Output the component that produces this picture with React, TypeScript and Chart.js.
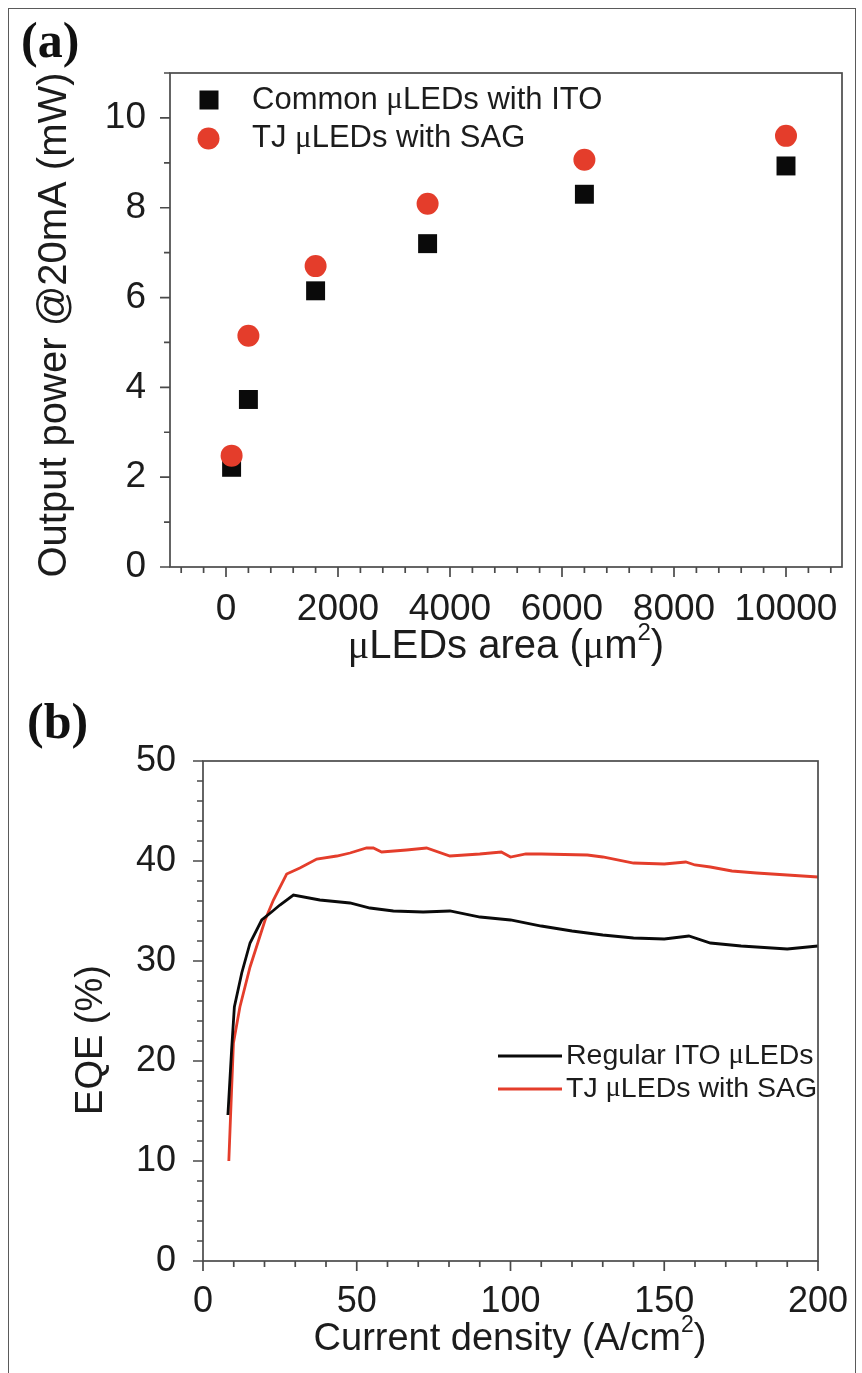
import React, { useEffect, useRef } from "react";
import { Chart, registerables } from "chart.js";

Chart.register(...registerables);

const SANS = '"Liberation Sans", Arial, Helvetica, sans-serif';
const SERIF = '"Liberation Serif", "Times New Roman", serif';
const AXIS_COLOR = "#4a4a4a";
const TEXT_COLOR = "#1c1c1c";
const RED = "#e43d2b";
const BLACK = "#0a0a0a";

// ---------- Panel (a) data ----------
const areaUm2 = [100, 400, 1600, 3600, 6400, 10000];
const powerCommonITO = [2.22, 3.73, 6.15, 7.2, 8.3, 8.93];
const powerTJSAG = [2.48, 5.15, 6.7, 8.09, 9.07, 9.6];
const aXTickLabels = [0, 2000, 4000, 6000, 8000, 10000];
const aYTickLabels = [0, 2, 4, 6, 8, 10];
const aXRange = [-1000, 11000];
const aYRange = [0, 11];
const aXMinorStep = 400;
const aYMinorStep = 1;

// ---------- Panel (b) data ----------
const regX = [8.1, 9.3, 10.2, 12.6, 15.3, 19.1, 22.3, 25, 29.4, 38, 47.8, 54.3, 61.9, 71.6, 80.3, 90.1, 100, 110, 120, 130, 140, 150, 158, 165, 175, 190, 200];
const regEQE = [14.6, 21.1, 25.4, 28.8, 31.8, 34.1, 34.9, 35.6, 36.6, 36.1, 35.8, 35.3, 35.0, 34.9, 35.0, 34.4, 34.1, 33.5, 33.0, 32.6, 32.3, 32.2, 32.5, 31.8, 31.5, 31.2, 31.5];
const tjX = [8.4, 8.9, 9.9, 12.0, 15.3, 20.2, 22.9, 27.2, 31.5, 37, 43.5, 47.8, 53.2, 55.4, 58.1, 66.2, 72.7, 80.3, 90, 97, 100, 105, 110, 125, 130, 140, 150, 157, 160, 165, 172, 180, 190, 200];
const tjEQE = [10, 14, 21.8, 25.4, 29.4, 34.1, 36.1, 38.7, 39.3, 40.2, 40.5, 40.8, 41.3, 41.3, 40.9, 41.1, 41.3, 40.5, 40.7, 40.9, 40.4, 40.7, 40.7, 40.6, 40.4, 39.8, 39.7, 39.9, 39.6, 39.4, 39.0, 38.8, 38.6, 38.4];
const bXTickLabels = [0, 50, 100, 150, 200];
const bYTickLabels = [0, 10, 20, 30, 40, 50];
const bXRange = [0, 200];
const bYRange = [0, 50];
const bXMinorStep = 10;
const bYMinorStep = 2;

type Seg = { t: string; f: string; dy?: number };

function drawRich(ctx: CanvasRenderingContext2D, segs: Seg[], x: number, y: number, align: "left" | "center", rot = 0) {
  ctx.save();
  ctx.translate(x, y);
  if (rot) ctx.rotate(rot);
  ctx.textBaseline = "middle";
  ctx.textAlign = "left";
  ctx.fillStyle = TEXT_COLOR;
  const widths = segs.map((s) => {
    ctx.font = s.f;
    return ctx.measureText(s.t).width;
  });
  const total = widths.reduce((a, b) => a + b, 0);
  let cx = align === "center" ? -total / 2 : 0;
  segs.forEach((s, i) => {
    ctx.font = s.f;
    ctx.fillText(s.t, cx, s.dy || 0);
    cx += widths[i];
  });
  ctx.restore();
}

function muSegs(text: string, size: number): Seg[] {
  const parts = text.split("μ");
  const out: Seg[] = [];
  parts.forEach((p, i) => {
    if (i > 0) out.push({ t: "μ", f: `${size}px ${SERIF}` });
    if (p) out.push({ t: p, f: `${size}px ${SANS}` });
  });
  return out;
}

function buildTicks(min: number, max: number, step: number) {
  const out: number[] = [];
  for (let v = Math.ceil(min / step) * step; v <= max + 1e-9; v += step) {
    out.push(Math.round(v * 1000) / 1000);
  }
  return out;
}

function makeAxis(range: number[], step: number, labels: number[], fontSize: number, padding: number, fixed: number, horizontal: boolean) {
  return {
    type: "linear",
    min: range[0],
    max: range[1],
    grid: { display: false },
    border: { display: false },
    afterBuildTicks: (s: any) => {
      s.ticks = buildTicks(range[0], range[1], step).map((v) => ({ value: v }));
    },
    afterFit: (s: any) => {
      if (horizontal) s.height = fixed;
      else s.width = fixed;
    },
    ticks: {
      autoSkip: false,
      maxRotation: 0,
      minRotation: 0,
      padding,
      color: TEXT_COLOR,
      font: { family: SANS, size: fontSize, lineHeight: 1.2 },
      callback: (v: any) => (labels.includes(Number(v)) ? String(v) : ""),
    },
  };
}

function frameAndTicks(xMajor: number[], yMajor: number[]) {
  return {
    id: "frameTicks",
    afterDraw(chart: any) {
      const { ctx, chartArea: a, scales } = chart;
      ctx.save();
      ctx.strokeStyle = AXIS_COLOR;
      ctx.lineWidth = 1.7;
      ctx.strokeRect(a.left, a.top, a.right - a.left, a.bottom - a.top);
      ctx.beginPath();
      for (const t of scales.x.ticks) {
        const p = scales.x.getPixelForValue(t.value);
        const len = xMajor.includes(t.value) ? 10 : 6;
        ctx.moveTo(p, a.bottom);
        ctx.lineTo(p, a.bottom + len);
      }
      for (const t of scales.y.ticks) {
        const p = scales.y.getPixelForValue(t.value);
        const len = yMajor.includes(t.value) ? 10 : 6;
        ctx.moveTo(a.left, p);
        ctx.lineTo(a.left - len, p);
      }
      ctx.stroke();
      ctx.restore();
    },
  };
}

const textA = {
  id: "textA",
  afterDraw(chart: any) {
    const ctx: CanvasRenderingContext2D = chart.ctx;
    ctx.save();
    ctx.fillStyle = "#111";
    ctx.font = `bold 50px ${SERIF}`;
    ctx.textBaseline = "alphabetic";
    ctx.fillText("(a)", 21, 57);
    ctx.restore();
    drawRich(ctx, [{ t: "Output power @20mA (mW)", f: `40px ${SANS}` }], 55, 325, "center", -Math.PI / 2);
    drawRich(
      ctx,
      [
        { t: "μ", f: `40px ${SERIF}` },
        { t: "LEDs area (", f: `40px ${SANS}` },
        { t: "μ", f: `40px ${SERIF}` },
        { t: "m", f: `40px ${SANS}` },
        { t: "2", f: `24px ${SANS}`, dy: -14 },
        { t: ")", f: `40px ${SANS}` },
      ],
      506,
      647,
      "center"
    );
    const rows = [100, 138.5];
    chart.data.datasets.forEach((ds: any, i: number) => {
      const y = rows[i];
      ctx.save();
      ctx.fillStyle = ds.backgroundColor;
      if (ds.pointStyle === "rect") {
        ctx.fillRect(209 - 9.5, y - 9.5, 19, 19);
      } else {
        ctx.beginPath();
        ctx.arc(208.5, y, 11, 0, Math.PI * 2);
        ctx.fill();
      }
      ctx.restore();
      drawRich(ctx, muSegs(ds.label, 31), 252, y, "left");
    });
  },
};

const textB = {
  id: "textB",
  afterDraw(chart: any) {
    const ctx: CanvasRenderingContext2D = chart.ctx;
    ctx.save();
    ctx.fillStyle = "#111";
    ctx.font = `bold 50px ${SERIF}`;
    ctx.textBaseline = "alphabetic";
    ctx.fillText("(b)", 27, 48);
    ctx.restore();
    drawRich(ctx, [{ t: "EQE (%)", f: `38px ${SANS}` }], 92, 350, "center", -Math.PI / 2);
    drawRich(
      ctx,
      [
        { t: "Current density (A/cm", f: `38px ${SANS}` },
        { t: "2", f: `23px ${SANS}`, dy: -14 },
        { t: ")", f: `38px ${SANS}` },
      ],
      510,
      650,
      "center"
    );
    const rows = [366, 399];
    chart.data.datasets.forEach((ds: any, i: number) => {
      const y = rows[i];
      ctx.save();
      ctx.strokeStyle = ds.borderColor;
      ctx.lineWidth = 2.8;
      ctx.beginPath();
      ctx.moveTo(498, y);
      ctx.lineTo(562, y);
      ctx.stroke();
      ctx.restore();
      drawRich(ctx, muSegs(ds.label, 28.5), 566, y, "left");
    });
  },
};

export default function App() {
  const refA = useRef<HTMLCanvasElement | null>(null);
  const refB = useRef<HTMLCanvasElement | null>(null);

  useEffect(() => {
    if (!refA.current || !refB.current) return;
    const chartA = new Chart(refA.current, {
      type: "scatter",
      data: {
        datasets: [
          {
            label: "Common μLEDs with ITO",
            data: areaUm2.map((x, i) => ({ x, y: powerCommonITO[i] })),
            pointStyle: "rect",
            pointRadius: 13.4,
            backgroundColor: BLACK,
            borderColor: BLACK,
            borderWidth: 0,
            showLine: false,
            order: 2,
          },
          {
            label: "TJ μLEDs with SAG",
            data: areaUm2.map((x, i) => ({ x, y: powerTJSAG[i] })),
            pointStyle: "circle",
            pointRadius: 11,
            backgroundColor: RED,
            borderColor: RED,
            borderWidth: 0,
            showLine: false,
            order: 1,
          },
        ],
      },
      options: {
        responsive: false,
        animation: false,
        devicePixelRatio: 1,
        layout: { padding: { left: 10, right: 20, top: 73, bottom: 0 } },
        plugins: { legend: { display: false }, tooltip: { enabled: false } },
        scales: {
          x: makeAxis(aXRange, aXMinorStep, aXTickLabels, 37, 12.5, 123, true) as any,
          y: makeAxis(aYRange, aYMinorStep, aYTickLabels, 37, 16, 160, false) as any,
        },
      },
      plugins: [frameAndTicks(aXTickLabels, aYTickLabels), textA],
    } as any);

    const chartB = new Chart(refB.current, {
      type: "line",
      data: {
        datasets: [
          {
            label: "Regular ITO μLEDs",
            data: regX.map((x, i) => ({ x, y: regEQE[i] })),
            borderColor: BLACK,
            backgroundColor: BLACK,
            borderWidth: 2.8,
            pointRadius: 0,
            tension: 0,
            fill: false,
          },
          {
            label: "TJ μLEDs with SAG",
            data: tjX.map((x, i) => ({ x, y: tjEQE[i] })),
            borderColor: RED,
            backgroundColor: RED,
            borderWidth: 2.8,
            pointRadius: 0,
            tension: 0,
            fill: false,
          },
        ],
      },
      options: {
        responsive: false,
        animation: false,
        devicePixelRatio: 1,
        layout: { padding: { left: 10, right: 44, top: 71, bottom: 0 } },
        plugins: { legend: { display: false }, tooltip: { enabled: false } },
        scales: {
          x: makeAxis(bXRange, bXMinorStep, bXTickLabels, 36, 11.4, 112, true) as any,
          y: makeAxis(bYRange, bYMinorStep, bYTickLabels, 36, 19, 193, false) as any,
        },
      },
      plugins: [frameAndTicks(bXTickLabels, bYTickLabels), textB],
    } as any);

    return () => {
      chartA.destroy();
      chartB.destroy();
    };
  }, []);

  return (
    <div style={{ position: "absolute", left: 0, top: 0, width: 862, height: 1373, background: "#fff", overflow: "hidden" }}>
      <div
        style={{
          position: "absolute",
          left: 8,
          top: 8,
          width: 848,
          height: 1420,
          border: "1.5px solid #5a5a5a",
          boxSizing: "border-box",
        }}
      />
      <canvas ref={refA} width={862} height={690} style={{ position: "absolute", left: 0, top: 0, display: "block" }} />
      <canvas ref={refB} width={862} height={683} style={{ position: "absolute", left: 0, top: 690, display: "block" }} />
    </div>
  );
}
